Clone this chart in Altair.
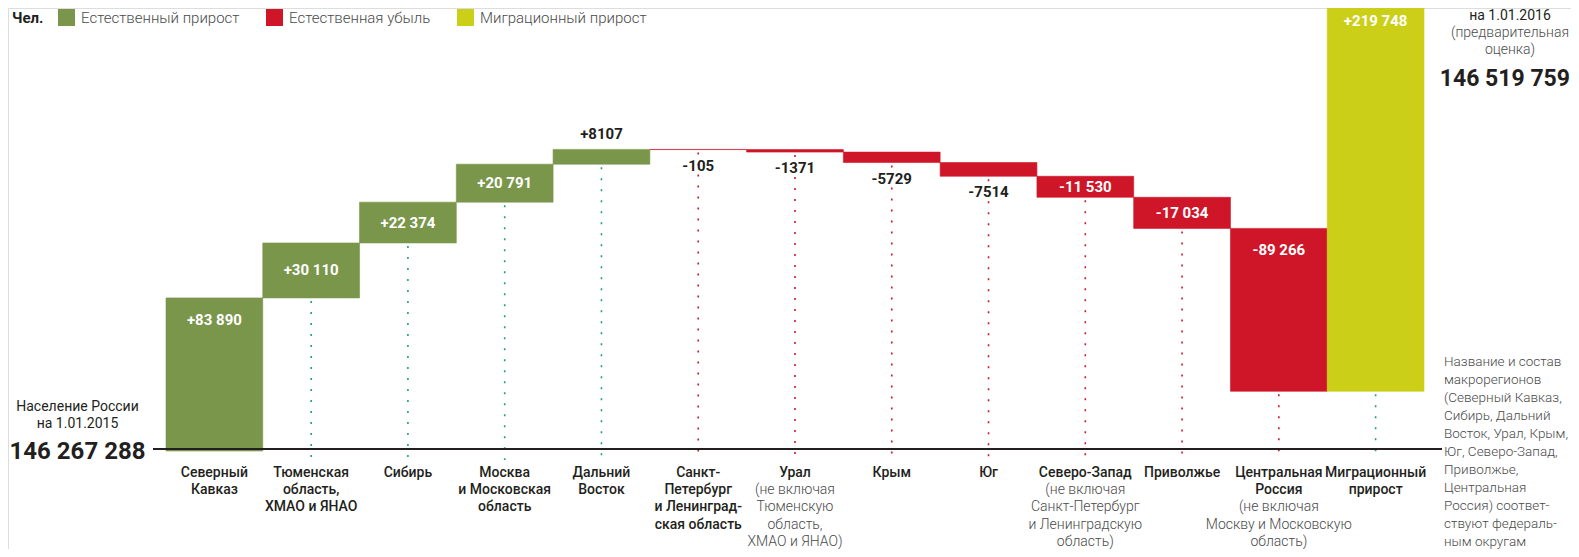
import altair as alt
import pandas as pd

# ---------------- data ----------------
regions = [
    "Северный Кавказ", "Тюменская область, ХМАО и ЯНАО", "Сибирь",
    "Москва и Московская область", "Дальний Восток",
    "Санкт-Петербург и Ленинградская область", "Урал", "Крым", "Юг",
    "Северо-Запад", "Приволжье", "Центральная Россия", "Миграционный прирост",
]
changes = [83890, 30110, 22374, 20791, 8107, -105, -1371, -5729, -7514,
           -11530, -17034, -89266, 219748]
kinds = ["Естественный прирост"] * 5 + ["Естественная убыль"] * 7 + ["Миграционный прирост"]
kind_order = ["Естественный прирост", "Естественная убыль", "Миграционный прирост"]

main_lines = [
    ["Северный", "Кавказ"],
    ["Тюменская", "область,", "ХМАО и ЯНАО"],
    ["Сибирь"],
    ["Москва", "и Московская", "область"],
    ["Дальний", "Восток"],
    ["Санкт-", "Петербург", "и Ленинград-", "ская область"],
    ["Урал"],
    ["Крым"],
    ["Юг"],
    ["Северо-Запад"],
    ["Приволжье"],
    ["Центральная", "Россия"],
    ["Миграционный", "прирост"],
]
note_lines = [
    [], [], [], [], [], [],
    ["(не включая", "Тюменскую", "область,", "ХМАО и ЯНАО)"],
    [], [],
    ["(не включая", "Санкт-Петербург", "и Ленинградскую", "область)"],
    [],
    ["(не включая", "Москву и Московскую", "область)"],
    [],
]

start_population = 146267288
end_population = 146519759
start_caption = ["Население России", "на 1.01.2015"]
end_caption = ["на 1.01.2016"]
end_caption_note = ["(предварительная", "оценка)"]
side_note = ["Название и состав", "макрорегионов", "(Северный Кавказ,",
             "Сибирь, Дальний", "Восток, Урал, Крым,", "Юг, Северо-Запад,",
             "Приволжье,", "Центральная", "Россия) соответ-",
             "ствуют федераль-", "ным округам"]

# ---------------- styling ----------------
GREEN = "#7a964b"
RED = "#cf1629"
YELLOW = "#cccf17"
TEAL = "#22a06c"
DARK = "#231f20"
GRAY = "#4a4a4a"
FONT = "Roboto"

W, H = 1563, 541
Y_MIN, Y_MAX = -53704, 242764
LABEL_Y = 458
LABEL_LH = 17.2


def fmt_change(v):
    a = abs(v)
    s = f"{a:,}".replace(",", " ") if a >= 10000 else str(a)
    return ("+" if v > 0 else "-") + s


def fmt_big(n):
    return f"{n:,}".replace(",", " ")


rows = []
cum = 0
for r, c, k, ml, nl in zip(regions, changes, kinds, main_lines, note_lines):
    s, e = cum, cum + c
    cum = e
    top, bottom = max(s, e), min(s, e)
    a = abs(c)
    if a >= 80000 and top > Y_MAX:
        mode, anchor = "clipped", Y_MAX
    elif a >= 80000:
        mode, anchor = "top_in", top
    elif a >= 10000:
        mode, anchor = "center", (s + e) / 2
    elif c > 0:
        mode, anchor = "above", top
    else:
        mode, anchor = "below", bottom
    rows.append(dict(region=r, change=c, kind=k, start=s, end=e, top=top,
                     bottom=bottom, mode=mode, anchor=anchor,
                     label=fmt_change(c), main=ml,
                     note=nl if nl else None, note_start=len(ml) if nl else 0))
df = pd.DataFrame(rows)

xenc = alt.X("region:N", sort=regions,
             scale=alt.Scale(range=[158, 1416], paddingInner=0, paddingOuter=0),
             axis=None)
yscale = alt.Scale(domain=[Y_MIN, Y_MAX], nice=False, zero=False)
color_scale = alt.Scale(domain=kind_order, range=[GREEN, RED, YELLOW])

base = alt.Chart(df)

bars = base.mark_bar(clip=True, strokeWidth=0.6).encode(
    x=xenc,
    y=alt.Y("start:Q", scale=yscale, axis=None),
    y2="end:Q",
    stroke=alt.Stroke("kind:N", scale=color_scale, legend=None),
    color=alt.Color(
        "kind:N",
        scale=color_scale,
        legend=alt.Legend(
            title="Чел.", orient="none", legendX=4, legendY=1,
            direction="horizontal", titleOrient="left",
            titleFont=FONT, titleFontSize=15, titleFontWeight="bold",
            titleColor=DARK, titlePadding=14, titleBaseline="middle",
            symbolType="square", symbolSize=289, symbolStrokeWidth=0,
            symbolOpacity=1, labelFont=FONT, labelFontSize=15,
            labelFontWeight=300, labelColor=GRAY, labelOffset=6,
            labelLimit=400, columnPadding=26,
        ),
    ),
)

dots = base.transform_filter("datum.bottom > 0").mark_rule(
    strokeDash=[2, 9], strokeWidth=1.6, strokeDashOffset=-3
).encode(
    x=xenc,
    y=alt.Y("bottom:Q", scale=yscale),
    y2=alt.value(452),
    color=alt.condition(alt.datum.change < 0, alt.value(RED), alt.value(TEAL)),
)

baseline = alt.Chart(pd.DataFrame({"v": [0]})).mark_rule(
    color=DARK, strokeWidth=1.8
).encode(
    y=alt.datum(0, scale=yscale), yOffset=alt.value(-2),
    x=alt.value(145), x2=alt.value(1434),
)


def value_layer(mode, dy, color):
    return base.transform_filter(alt.datum.mode == mode).mark_text(
        font=FONT, fontSize=15, fontWeight="bold", color=color, dy=dy,
        baseline="middle", align="center"
    ).encode(x=xenc, y=alt.Y("anchor:Q", scale=yscale), text="label:N")


vals = (value_layer("clipped", 13, "white") + value_layer("top_in", 22, "white")
        + value_layer("center", 0, "white")
        + value_layer("above", -15, DARK) + value_layer("below", 16, DARK))

cat_main = base.mark_text(
    font=FONT, fontSize=14, fontWeight=500, color=DARK, baseline="top",
    align="center", lineHeight=LABEL_LH
).encode(x=xenc, y=alt.value(LABEL_Y), text="main")

note_layers = []
for n in sorted(set(df.loc[df.note_start > 0, "note_start"])):
    note_layers.append(
        base.transform_filter(alt.datum.note_start == int(n)).mark_text(
            font=FONT, fontSize=14, fontWeight=300, color=GRAY, baseline="top",
            align="center", lineHeight=LABEL_LH
        ).encode(x=xenc, y=alt.value(LABEL_Y + int(n) * LABEL_LH), text="note")
    )


def ann(lines, x, y, size, weight, color, align="center", lh=17):
    d = pd.DataFrame({"t": [lines]})
    return alt.Chart(d).mark_text(
        font=FONT, fontSize=size, fontWeight=weight, color=color,
        baseline="top", align=align, lineHeight=lh
    ).encode(x=alt.value(x), y=alt.value(y), text="t")


anns = (
    ann(start_caption, 69.5, 392, 14, 400, DARK)
    + ann([fmt_big(start_population)], 69.5, 432, 24, "bold", DARK)
    + ann(end_caption, 1502, 1, 14, 400, DARK)
    + ann(end_caption_note, 1502, 18, 14, 300, GRAY, lh=16.6)
    + ann([fmt_big(end_population)], 1562, 60, 23, "bold", DARK, align="right")
    + ann(side_note, 1436, 347, 13.5, 300, GRAY, align="left", lh=18.0)
)

chart = alt.layer(bars, dots, baseline, vals, cat_main, *note_layers, anns).properties(
    width=W, height=H, autosize=alt.AutoSizeParams(type="none"), padding=0
).configure_view(stroke=None).configure(font=FONT)

chart.save("out.html", embed_options={"renderer": "svg", "actions": False})
